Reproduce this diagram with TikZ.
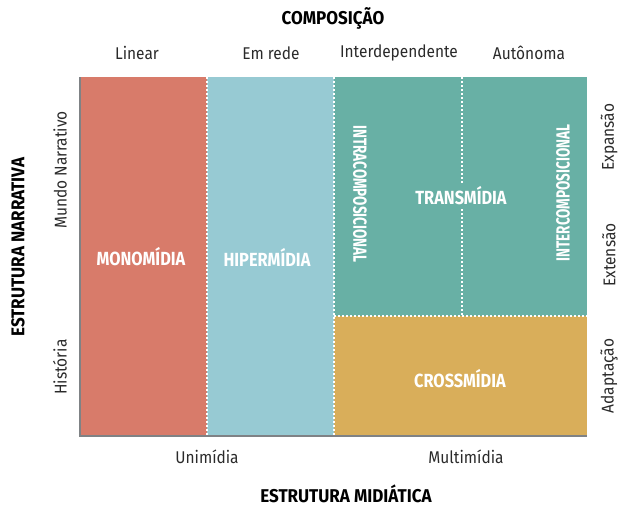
\documentclass[tikz,border=0pt]{standalone}
\usepackage{fontspec}
\setmainfont{Fira Sans}
\newfontfamily\titlefont[FakeStretch=0.92]{Fira Sans Bold}
\newfontfamily\cellfont[FakeStretch=0.86]{Fira Sans Bold}
\newfontfamily\rotfont[FakeStretch=0.71]{Fira Sans Bold}
\newfontfamily\regcond[FakeStretch=0.91]{Fira Sans}
\definecolor{cred}{HTML}{D87B6A}
\definecolor{cblue}{HTML}{97CAD3}
\definecolor{cteal}{HTML}{68B0A5}
\definecolor{cgold}{HTML}{D9AE5A}
\definecolor{caxis}{HTML}{7F8285}
\definecolor{ctext}{HTML}{2A2A2A}
\begin{document}
\begin{tikzpicture}[x=1pt,y=-1pt,
  axlab/.style={font=\regcond\fontsize{17}{19}\selectfont, text=ctext, inner sep=0pt},
  title/.style={font=\titlefont\fontsize{18.5}{20}\selectfont, text=black, inner sep=0pt},
  celllab/.style={font=\cellfont\fontsize{19}{21}\selectfont, text=white, inner sep=1pt},
  rotlab/.style={font=\rotfont\fontsize{19}{21}\selectfont, text=white, inner sep=1pt},
  sep/.style={white, line width=2pt, dash pattern=on 2pt off 2pt},
  axis/.style={caxis, line width=2pt}]
\useasboundingbox (0,0) rectangle (619,506);
% cells
\fill[cred] (80,77) rectangle (207,436);
\fill[cblue] (207,77) rectangle (334,436);
\fill[cteal] (334,77) rectangle (587,316);
\fill[cgold] (334,316) rectangle (587,436);
% separators
\coordinate (s1t) at (207,77); \coordinate (s1b) at (207,436);
\coordinate (s2t) at (334,77); \coordinate (s2b) at (334,436);
\coordinate (s3l) at (334,316); \coordinate (s3r) at (587,316);
\coordinate (s4t) at (462,77); \coordinate (s4b) at (462,316);
\draw[sep] (s1t) -- (s1b);
\draw[sep] (s2t) -- (s2b);
\draw[sep] (s3l) -- (s3r);
\draw[sep] (s4t) -- (s4b);
% axes
\coordinate (ot) at (80,77); \coordinate (o) at (80,436); \coordinate (or) at (587,436);
\draw[axis] (ot) -- (o) -- (or);
% cell labels
\node[celllab] (mono) at (141,257) {MONOMÍDIA};
\node[celllab] (hiper) at (267,257) {HIPERMÍDIA};
\node[celllab, fill=cteal, inner xsep=0pt, inner ysep=3pt] (trans) at (461,196) {TRANSMÍDIA};
\node[rotlab, rotate=-90] (intra) at (360,194) {INTRACOMPOSICIONAL};
\node[rotlab, rotate=90] (inter) at (563,193) {INTERCOMPOSICIONAL};
\node[celllab] (cross) at (460,379) {CROSSMÍDIA};
% titles
\node[title] (comp) at (333,18) {COMPOSIÇÃO};
\node[title, anchor=base] (midia) at (346,502) {ESTRUTURA MIDIÁTICA};
\node[title, rotate=90] (narr) at (18,247) {ESTRUTURA NARRATIVA};
% axis labels
\node[axlab] (lin) at (137,53) {Linear};
\node[axlab] (rede) at (271,53) {Em rede};
\node[axlab] (interd) at (399,53) {Interdependente};
\node[axlab] (auto) at (529,53) {Autônoma};
\node[axlab] (uni) at (207,457) {Unimídia};
\node[axlab] (multi) at (466,457) {Multimídia};
\node[axlab, rotate=90] (mundo) at (60,170) {Mundo Narrativo};
\node[axlab, rotate=90] (hist) at (60,367) {História};
\node[axlab, rotate=90] (expa) at (609,137) {Expansão};
\node[axlab, rotate=90] (exte) at (609,255) {Extensão};
\node[axlab, rotate=90] (adap) at (609,376) {Adaptação};
\end{tikzpicture}
\end{document}
